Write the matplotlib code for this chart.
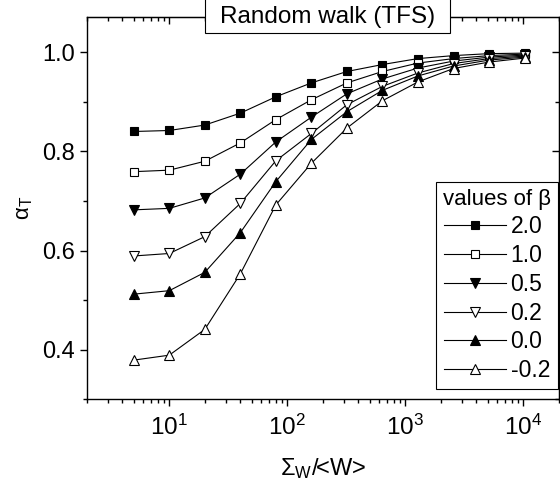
import numpy as np
import matplotlib
matplotlib.use("Agg")
import matplotlib.pyplot as plt
from matplotlib.patches import Rectangle
from matplotlib.ticker import MultipleLocator, LogLocator, NullFormatter

plt.rcParams['font.family'] = ['Liberation Sans', 'DejaVu Sans']
plt.rcParams['mathtext.fontset'] = 'custom'
plt.rcParams['mathtext.rm'] = 'Liberation Sans'
plt.rcParams['mathtext.it'] = 'Liberation Sans'

# data
sigma_w = [5, 10, 20, 40, 80, 160, 320, 640, 1280, 2560, 5120, 10240]
beta_labels = ['2.0', '1.0', '0.5', '0.2', '0.0', '-0.2']
a_b20 = [0.840, 0.842, 0.853, 0.877, 0.910, 0.938, 0.961, 0.975, 0.987, 0.993, 0.997, 0.998]
a_b10 = [0.759, 0.762, 0.780, 0.817, 0.864, 0.904, 0.938, 0.961, 0.978, 0.987, 0.993, 0.996]
a_b05 = [0.682, 0.685, 0.706, 0.754, 0.819, 0.869, 0.916, 0.946, 0.968, 0.982, 0.990, 0.994]
a_b02 = [0.589, 0.594, 0.628, 0.695, 0.781, 0.836, 0.894, 0.931, 0.958, 0.977, 0.987, 0.992]
a_b00 = [0.512, 0.519, 0.556, 0.636, 0.739, 0.824, 0.880, 0.923, 0.952, 0.972, 0.984, 0.990]
a_bm02 = [0.379, 0.389, 0.441, 0.553, 0.692, 0.776, 0.847, 0.902, 0.940, 0.967, 0.980, 0.988]

series = [a_b20, a_b10, a_b05, a_b02, a_b00, a_bm02]
markers = ['s', 's', 'v', 'v', '^', '^']
fills = ['black', 'white', 'black', 'white', 'black', 'white']
msizes = [6, 6, 7.2, 7.2, 7.2, 7.2]

fig = plt.figure(figsize=(5.6, 4.84), dpi=100)
ax = fig.add_axes([0.155, 0.175, 0.843, 0.789])

for y, lab, m, fc, ms in zip(series, beta_labels, markers, fills, msizes):
    ax.plot(sigma_w, y, color='black', lw=0.8, marker=m, ms=ms,
            mfc=fc, mec='black', mew=0.8, label=lab)

ax.set_xscale('log')
ax.set_xlim(2, 20000)
ax.set_ylim(0.3, 1.07)
ax.yaxis.set_major_locator(MultipleLocator(0.2))
ax.yaxis.set_minor_locator(MultipleLocator(0.1))
ax.yaxis.set_major_formatter(plt.FormatStrFormatter('%.1f'))
ax.xaxis.set_minor_locator(LogLocator(base=10, subs=np.arange(2, 10)))
ax.xaxis.set_minor_formatter(NullFormatter())

for s in ax.spines.values():
    s.set_linewidth(1.0)

ax.tick_params(axis='both', which='major', direction='out', length=5, width=1.0)
ax.tick_params(axis='both', which='minor', direction='out', length=3, width=1.0)
ax.tick_params(axis='y', labelsize=17)
ax.tick_params(axis='x', labelsize=17.5, pad=6)

# mirrored axes with inward ticks
top = ax.secondary_xaxis('top')
top.xaxis.set_minor_locator(LogLocator(base=10, subs=np.arange(2, 10)))
top.tick_params(which='major', direction='in', length=5, width=1.0, labeltop=False)
top.tick_params(which='minor', direction='in', length=3, width=1.0, labeltop=False)
right = ax.secondary_yaxis('right')
right.yaxis.set_major_locator(MultipleLocator(0.2))
right.yaxis.set_minor_locator(MultipleLocator(0.1))
right.tick_params(which='major', direction='in', length=5, width=1.0, labelright=False)
right.tick_params(which='minor', direction='in', length=3, width=1.0, labelright=False)

ax.set_xlabel(r'$\mathregular{\Sigma_W}$/<W>', fontsize=17, labelpad=12)
ax.set_ylabel(r'$\mathregular{\alpha_T}$', fontsize=16, labelpad=5)

# title box sitting on the top spine
ax.add_patch(Rectangle((0.2495, 0.959), 0.52, 0.2, transform=ax.transAxes,
                       fc='white', ec='black', lw=0.8, clip_on=False, zorder=5))
ax.text(0.5095, 1.0, 'Random walk (TFS)', transform=ax.transAxes, fontsize=17.5,
        ha='center', va='center', zorder=6)

leg = ax.legend(title='values of β', loc='lower right', bbox_to_anchor=(0.998, 0.027),
                borderaxespad=0, fontsize=16.5, title_fontsize=16, handlelength=2.7,
                handletextpad=0.2, labelspacing=0.25, borderpad=0.3, fancybox=False,
                framealpha=1, edgecolor='black')
leg.get_frame().set_linewidth(0.8)

fig.savefig('out.png', dpi=100)
